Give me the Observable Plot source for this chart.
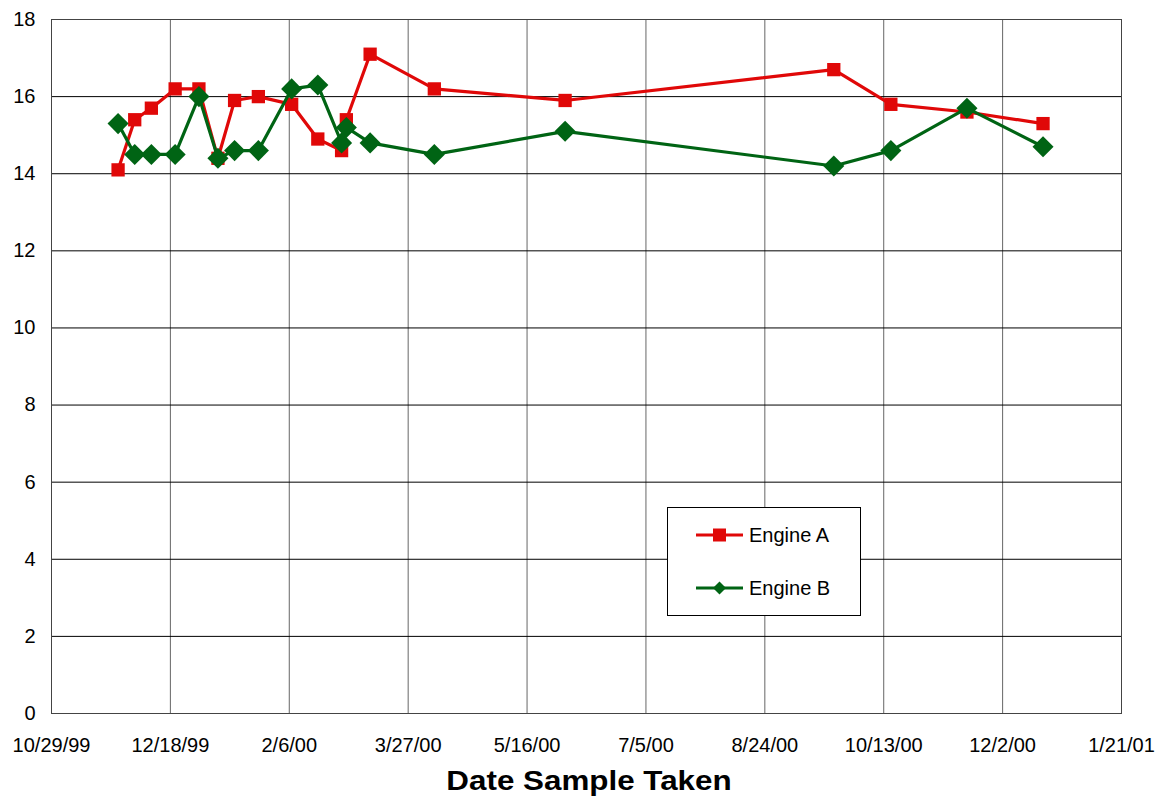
<!DOCTYPE html>
<html>
<head>
<meta charset="utf-8">
<script src="https://cdn.jsdelivr.net/npm/d3@7"></script>
<script src="https://cdn.jsdelivr.net/npm/@observablehq/plot@0.6"></script>
<style>
  html, body { margin: 0; padding: 0; background: #fff; }
  #wrap { position: relative; width: 1162px; height: 802px; font-family: "Liberation Sans", Arial, sans-serif; }
  #xlabel { position: absolute; left: 389px; width: 400px; top: 767px; text-align: center; font-size: 28px; line-height: 28px; font-weight: bold; transform: scaleX(1.12); transform-origin: center; color: #000; }
  #legend { position: absolute; left: 667px; top: 507px; width: 192px; height: 107px; border: 1px solid #000; background: #fff; }
  .lg-row { position: absolute; left: 28px; height: 24px; display: flex; align-items: center; font-size: 20px; color: #000; }
  .lg-row svg { margin-right: 5px; }
</style>
</head>
<body>
<div id="wrap"></div>
<script>
// ---- data ----
const dateLabels = ["11/26/99","12/3/99","12/10/99","12/20/99","12/30/99","1/7/00","1/14/00","1/24/00","2/7/00","2/18/00","2/28/00","3/1/00","3/11/00","4/7/00","6/1/00","9/22/00","10/16/00","11/17/00","12/19/00"];
const engineA = [14.1,15.4,15.7,16.2,16.2,14.4,15.9,16.0,15.8,14.9,14.6,15.4,17.1,16.2,15.9,16.7,15.8,15.6,15.3];
const engineB = [15.3,14.5,14.5,14.5,16.0,14.4,14.6,14.6,16.2,16.3,14.8,15.2,14.8,14.5,15.1,14.2,14.6,15.7,14.7];
const seriesNames = ["Engine A","Engine B"];
const seriesColors = ["#e00808","#006414"];
const xTickLabels = ["10/29/99","12/18/99","2/6/00","3/27/00","5/16/00","7/5/00","8/24/00","10/13/00","12/2/00","1/21/01"];
const yTicks = [0,2,4,6,8,10,12,14,16,18];
const xAxisTitle = "Date Sample Taken";

const parse = d3.utcParse("%m/%d/%y");
const xTicks = xTickLabels.map(parse);
const rowsA = dateLabels.map((d, i) => ({date: parse(d), value: engineA[i], series: seriesNames[0]}));
const rowsB = dateLabels.map((d, i) => ({date: parse(d), value: engineB[i], series: seriesNames[1]}));
const fmt = d3.utcFormat("%-m/%-d/%y");

const chart = Plot.plot({
  width: 1162,
  height: 802,
  marginLeft: 51,
  marginRight: 41,
  marginTop: 19,
  marginBottom: 89,
  style: {fontFamily: "'Liberation Sans', Arial, sans-serif", fontSize: "20px", color: "#000", background: "#fff"},
  x: {type: "utc", domain: [xTicks[0], xTicks[xTicks.length - 1]]},
  y: {domain: [0, 18]},
  marks: [
    Plot.gridX(xTicks, {stroke: "#666", strokeOpacity: 1, strokeWidth: 1}),
    Plot.gridY(yTicks, {stroke: "#000", strokeOpacity: 1, strokeWidth: 1}),
    Plot.frame({stroke: "#444", strokeWidth: 1}),
    Plot.axisY({ticks: yTicks, tickSize: 0, tickPadding: 16, label: null, fontSize: 20}),
    Plot.axisX({ticks: xTicks, tickSize: 0, tickPadding: 24, tickFormat: fmt, label: null, fontSize: 20}),
    Plot.line(rowsA, {x: "date", y: "value", stroke: seriesColors[0], strokeWidth: 3.2}),
    Plot.dot(rowsA, {x: "date", y: "value", symbol: "square", r: 7.5, fill: seriesColors[0], stroke: "none"}),
    Plot.line(rowsB, {x: "date", y: "value", stroke: seriesColors[1], strokeWidth: 3.2}),
    Plot.dot(rowsB, {x: "date", y: "value", symbol: "diamond2", r: 9.5, fill: seriesColors[1], stroke: "none"})
  ]
});

const wrap = document.getElementById("wrap");
wrap.appendChild(chart);

const xl = document.createElement("div");
xl.id = "xlabel";
xl.textContent = xAxisTitle;
wrap.appendChild(xl);

const lg = document.createElement("div");
lg.id = "legend";
const sym = [
  '<rect x="17" y="5.5" width="13" height="13" fill="COLOR"/>',
  '<path d="M23.5 5.5 L30 12 L23.5 18.5 L17 12 Z" fill="COLOR"/>'
];
seriesNames.forEach((name, i) => {
  const row = document.createElement("div");
  row.className = "lg-row";
  row.style.top = (i === 0 ? 15 : 68) + "px";
  row.innerHTML = `<svg width="48" height="24"><line x1="0" x2="47" y1="12" y2="12" stroke="${seriesColors[i]}" stroke-width="3"/>${sym[i].replace("COLOR", seriesColors[i])}</svg><span>${name}</span>`;
  lg.appendChild(row);
});
wrap.appendChild(lg);
</script>
</body>
</html>
